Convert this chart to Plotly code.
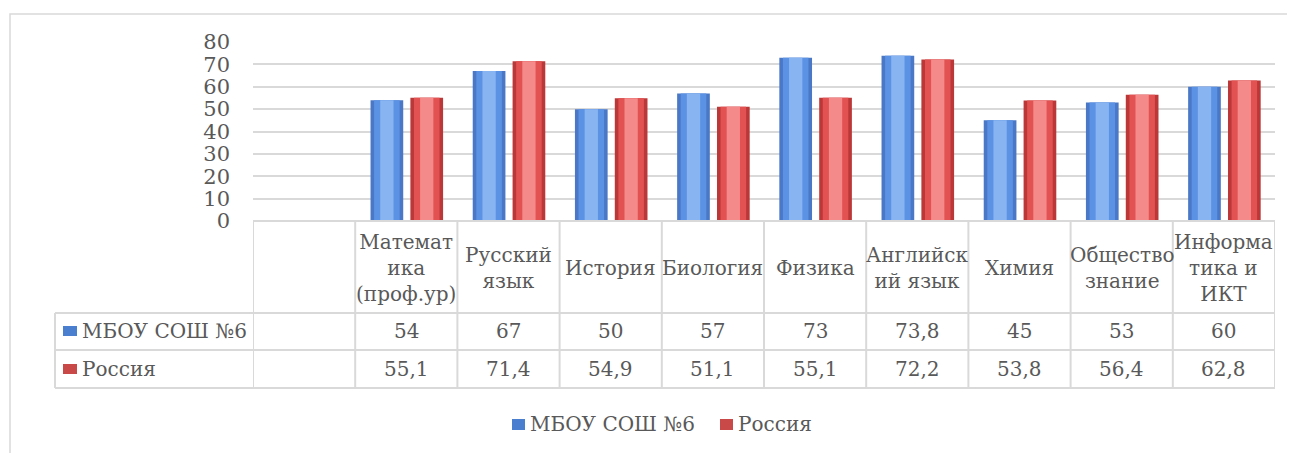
import plotly.graph_objects as go

# ---------------- data ----------------
categories = ["Математ<br>ика<br>(проф.ур)", "Русский<br>язык", "История", "Биология",
              "Физика", "Английск<br>ий язык", "Химия", "Общество<br>знание",
              "Информа<br>тика и<br>ИКТ"]
school = [54, 67, 50, 57, 73, 73.8, 45, 53, 60]
russia = [55.1, 71.4, 54.9, 51.1, 55.1, 72.2, 53.8, 56.4, 62.8]
series_names = ["МБОУ СОШ №6", "Россия"]
y_ticks = [0, 10, 20, 30, 40, 50, 60, 70, 80]

# ---------------- layout constants (page pixels; page body has an 8px margin) ----------------
OFF = 8
W, H = 1295 - OFF, 453 - OFF
PLOT_L, PLOT_R, PLOT_T, PLOT_B = 253, 1275, 42, 221   # page-pixel plot box
L = PLOT_L - OFF
T = PLOT_T - OFF
R = W - (PLOT_R - OFF)
B = H - (PLOT_B - OFF)
PW = PLOT_R - PLOT_L
PH = PLOT_B - PLOT_T
FONT = "DejaVu Serif"
TXT = "#595959"
GRID = "#d9d9d9"
FS = 20


def px2x(p):
    return (p - PLOT_L) / PW


def px2y(p):
    return (PLOT_B - p) / PH


def fmt(v):
    return f"{v:g}".replace(".", ",")


xs = list(range(1, len(categories) + 1))

fig = go.Figure()

# layered bars to imitate cylinder-like shading
layers_blue = [(0.32, "#4a78c6"), (0.25, "#5c92e4"), (0.13, "#88b5f2")]
layers_red = [(0.32, "#bb3838"), (0.25, "#e35252"), (0.13, "#f48a8a")]
c_blue, c_red = -0.19, 0.20
for w, col in layers_blue:
    fig.add_trace(go.Bar(x=xs, y=school, width=w, offset=c_blue - w / 2,
                         marker=dict(color=col, line=dict(width=0)),
                         name=series_names[0], showlegend=False, hoverinfo="y"))
for w, col in layers_red:
    fig.add_trace(go.Bar(x=xs, y=russia, width=w, offset=c_red - w / 2,
                         marker=dict(color=col, line=dict(width=0)),
                         name=series_names[1], showlegend=False, hoverinfo="y"))

shapes = []
# outer chart border
shapes.append(dict(type="rect", xref="paper", yref="paper",
                   x0=px2x(10), x1=px2x(1320), y0=px2y(14), y1=px2y(480),
                   line=dict(color=GRID, width=1.5), layer="below"))
# table horizontal lines
for yy, x0 in [(221, PLOT_L), (313, 55), (350, 55), (388, 55)]:
    shapes.append(dict(type="line", xref="paper", yref="paper",
                       x0=px2x(x0), x1=1, y0=px2y(yy), y1=px2y(yy),
                       line=dict(color=GRID, width=2)))
# table vertical lines at category boundaries
for k in range(len(categories) + 2):
    shapes.append(dict(type="line", xref="x", yref="paper",
                       x0=k - 0.5, x1=k - 0.5, y0=px2y(221), y1=px2y(388),
                       line=dict(color=GRID, width=2)))
shapes.append(dict(type="line", xref="paper", yref="paper",
                   x0=px2x(55), x1=px2x(55), y0=px2y(313), y1=px2y(388),
                   line=dict(color=GRID, width=2)))

annotations = []
for i, c in enumerate(categories):
    annotations.append(dict(x=xs[i], y=px2y(268), xref="x", yref="paper", text=c,
                            showarrow=False, font=dict(family=FONT, size=FS, color=TXT),
                            align="center", xanchor="center", yanchor="middle"))
    annotations.append(dict(x=xs[i], y=px2y(331), xref="x", yref="paper", text=fmt(school[i]),
                            showarrow=False, font=dict(family=FONT, size=FS, color=TXT),
                            xanchor="center", yanchor="middle"))
    annotations.append(dict(x=xs[i], y=px2y(369), xref="x", yref="paper", text=fmt(russia[i]),
                            showarrow=False, font=dict(family=FONT, size=FS, color=TXT),
                            xanchor="center", yanchor="middle"))

key_cols = ["#4a7fd0", "#c94848"]
# table row labels with keys
for j, (name, yc) in enumerate(zip(series_names, [331, 369])):
    shapes.append(dict(type="rect", xref="paper", yref="paper",
                       x0=px2x(63), x1=px2x(77), y0=px2y(yc - 5), y1=px2y(yc + 5),
                       fillcolor=key_cols[j], line=dict(width=0)))
    annotations.append(dict(x=px2x(80), y=px2y(yc), xref="paper", yref="paper", text=name,
                            showarrow=False, font=dict(family=FONT, size=FS, color=TXT),
                            xanchor="left", yanchor="middle"))

# legend at bottom
for j, (name, sx, tx) in enumerate(zip(series_names, [512, 720], [528, 736])):
    shapes.append(dict(type="rect", xref="paper", yref="paper",
                       x0=px2x(sx), x1=px2x(sx + 13), y0=px2y(419), y1=px2y(430),
                       fillcolor=key_cols[j], line=dict(width=0)))
    annotations.append(dict(x=px2x(tx), y=px2y(424), xref="paper", yref="paper", text=name,
                            showarrow=False, font=dict(family=FONT, size=FS, color=TXT),
                            xanchor="left", yanchor="middle"))

fig.update_layout(
    width=W, height=H, autosize=False,
    margin=dict(l=L, r=R, t=T, b=B, pad=0),
    paper_bgcolor="white", plot_bgcolor="white",
    barmode="overlay",
    showlegend=False,
    shapes=shapes, annotations=annotations,
    xaxis=dict(range=[-0.5, len(categories) + 0.5], showticklabels=False, showgrid=False,
               zeroline=False, showline=False, ticks="", fixedrange=True),
    yaxis=dict(range=[0, 80], tickvals=y_ticks, showgrid=True, gridcolor=GRID, gridwidth=1.5,
               zeroline=False, showline=False, ticks="", ticklabelstandoff=22,
               tickfont=dict(family=FONT, size=21, color=TXT), fixedrange=True),
)

fig.write_html("out.html")
